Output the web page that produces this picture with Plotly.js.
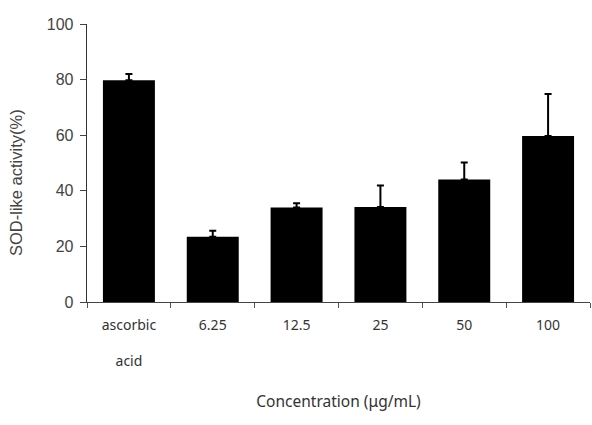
<!DOCTYPE html>
<html>
<head>
<meta charset="utf-8">
<script src="https://cdn.plot.ly/plotly-3.0.1.min.js"></script>
<style>html,body{margin:0;padding:0;background:#fff;}#chart{width:592px;height:425px;}</style>
</head>
<body>
<div id="chart"></div>
<script>
const categories = ["ascorbic<br><br>acid", "6.25", "12.5", "25", "50", "100"];
const activity = [79.8, 23.5, 34.0, 34.2, 44.1, 59.7];
const errors = [2.2, 2.1, 1.5, 7.7, 6.1, 15.1];
const yTicks = [0, 20, 40, 60, 80, 100];

const trace = {
  type: "bar",
  x: categories,
  y: activity,
  width: 0.62,
  marker: {color: "#000000", line: {width: 0}},
  error_y: {type: "data", array: errors, symmetric: false, arrayminus: errors.map(() => 0), visible: true, color: "#000000", thickness: 2, width: 3.5}
};

const layout = {
  width: 592, height: 425,
  margin: {l: 87, r: 2, t: 24, b: 123},
  paper_bgcolor: "#ffffff", plot_bgcolor: "#ffffff",
  showlegend: false,
  xaxis: {
    type: "category",
    tickson: "boundaries",
    ticks: "outside", ticklen: 5, tickcolor: "#555", tickwidth: 1,
    ticklabelstandoff: 10,
    showline: true, linecolor: "#444", linewidth: 1,
    showgrid: false, zeroline: false,
    tickfont: {family: "Noto Sans, DejaVu Sans, sans-serif", size: 14, color: "#333"},
    title: {text: "Concentration (μg/mL)", font: {family: "Noto Sans, DejaVu Sans, sans-serif", size: 15.5, color: "#333"}, standoff: 26}
  },
  yaxis: {
    range: [0, 100],
    tickvals: yTicks,
    ticks: "outside", ticklen: 6, tickcolor: "#444", tickwidth: 1,
    ticklabelstandoff: 3,
    showline: true, linecolor: "#333", linewidth: 1.3,
    showgrid: false, zeroline: false,
    tickfont: {family: "Liberation Sans, Arial, sans-serif", size: 16, color: "#444"}
  },
  annotations: [{
    text: "SOD-like activity(%)",
    xref: "paper", yref: "paper",
    x: -0.14, y: 0.43,
    xanchor: "center", yanchor: "middle",
    textangle: -90, showarrow: false,
    font: {family: "Liberation Sans, Arial, sans-serif", size: 16.5, color: "#444"}
  }]
};

Plotly.newPlot("chart", [trace], layout, {displayModeBar: false, staticPlot: true});
</script>
</body>
</html>
